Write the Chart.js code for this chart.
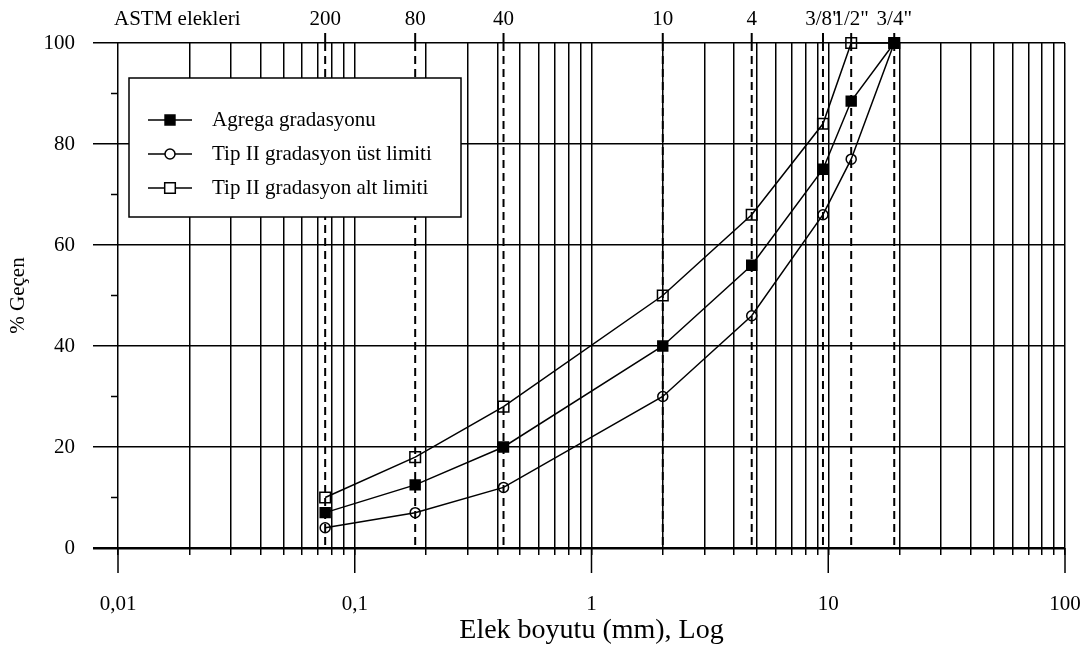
<!DOCTYPE html>
<html>
<head>
<meta charset="utf-8">
<script src="https://cdn.jsdelivr.net/npm/chart.js@4.4.0/dist/chart.umd.min.js"></script>
<style>
  html, body { margin: 0; padding: 0; background: #fff; }
  #kutu { width: 1088px; height: 650px; }
</style>
</head>
<body>
<div id="kutu"><canvas id="grafik"></canvas></div>
<script>
// Elek açıklıkları (mm) ve ASTM elek numaraları
const elekBoyutlari = [0.075, 0.18, 0.425, 2.0, 4.75, 9.5, 12.5, 19.0];
const elekEtiketleri = ['200', '80', '40', '10', '4', '3/8"', '1/2"', '3/4"'];

// Geçen yüzdeler (%)
const agregaGecen = [7, 12.5, 20, 40, 56, 75, 88.5, 100];
const ustLimit = [4, 7, 12, 30, 46, 66, 77, 100];
const altLimit = [10, 18, 28, 50, 66, 84, 100, 100];

// Eksen işaretleri
const dekadlar = [0.01, 0.1, 1, 10, 100];
const dekadEtiketleri = ['0,01', '0,1', '1', '10', '100'];
const araCarpanlar = [2, 3, 4, 5, 6, 7, 8, 9];
const yAnaTikler = [0, 20, 40, 60, 80, 100];
const yAraTikler = [10, 30, 50, 70, 90];

const yazi = "'Liberation Serif', 'Times New Roman', serif";

// log eksen için tüm ızgara değerleri (1..9 x 10^n)
let xIzgara = [];
dekadlar.forEach((d, i) => {
    xIzgara.push(d);
    if (i < dekadlar.length - 1) {
        araCarpanlar.forEach(c => xIzgara.push(c * d));
    }
});

function noktalar(degerler) {
    return elekBoyutlari.map((x, i) => ({ x: x, y: degerler[i] }));
}

const seriler = [
    { label: 'Agrega gradasyonu', data: noktalar(agregaGecen), pointStyle: 'rect', pointRadius: 7, dolu: true },
    { label: 'Tip II gradasyon üst limiti', data: noktalar(ustLimit), pointStyle: 'circle', pointRadius: 5, dolu: false },
    { label: 'Tip II gradasyon alt limiti', data: noktalar(altLimit), pointStyle: 'rect', pointRadius: 7.5, dolu: false }
];

function cizgi(ctx, x1, y1, x2, y2) {
    ctx.beginPath();
    ctx.moveTo(x1, y1);
    ctx.lineTo(x2, y2);
    ctx.stroke();
}

// Elek çizgileri, ek tikler ve üst etiketler
const elekEklentisi = {
    id: 'elekEklentisi',
    beforeDatasetsDraw(chart) {
        const { ctx, chartArea: a, scales: { x, y } } = chart;
        ctx.save();
        ctx.strokeStyle = '#000';
        ctx.lineWidth = 1.5;

        yAraTikler.forEach(v => {
            let py = y.getPixelForValue(v);
            cizgi(ctx, a.left - 7, py, a.left, py);
        });

        dekadlar.forEach(v => {
            let px = x.getPixelForValue(v);
            cizgi(ctx, px, a.bottom, px, a.bottom + 25);
        });

        ctx.lineWidth = 2;
        ctx.setLineDash([8, 5]);
        elekBoyutlari.forEach(v => {
            let px = x.getPixelForValue(v);
            cizgi(ctx, px, a.top, px, a.bottom);
        });
        ctx.setLineDash([]);
        elekBoyutlari.forEach(v => {
            let px = x.getPixelForValue(v);
            cizgi(ctx, px, a.top - 10, px, a.top);
        });

        ctx.fillStyle = '#000';
        ctx.font = '21px ' + yazi;
        ctx.textBaseline = 'middle';
        ctx.textAlign = 'center';
        elekBoyutlari.forEach((v, i) => {
            ctx.fillText(elekEtiketleri[i], x.getPixelForValue(v), 19);
        });
        ctx.textAlign = 'left';
        ctx.fillText('ASTM elekleri', 114, 19);
        ctx.restore();
    },
    afterDraw(chart) {
        const ctx = chart.ctx;
        ctx.save();
        ctx.fillStyle = '#fff';
        ctx.fillRect(129, 78, 332, 139);
        ctx.strokeStyle = '#000';
        ctx.lineWidth = 1.5;
        ctx.strokeRect(129, 78, 332, 139);

        const satirlar = [120, 154, 188];
        ctx.font = '21px ' + yazi;
        ctx.textBaseline = 'middle';
        ctx.textAlign = 'left';
        seriler.forEach((s, i) => {
            let yy = satirlar[i];
            ctx.strokeStyle = '#000';
            ctx.lineWidth = 1.5;
            cizgi(ctx, 148, yy, 192, yy);
            ctx.fillStyle = s.dolu ? '#000' : '#fff';
            Chart.helpers.drawPoint(ctx, { pointStyle: s.pointStyle, radius: s.pointRadius, rotation: 0, borderWidth: 1.5 }, 170, yy);
            ctx.fillStyle = '#000';
            ctx.fillText(s.label, 212, yy);
        });
        ctx.restore();
    }
};

Chart.defaults.font.family = yazi;
Chart.defaults.color = '#000';

document.addEventListener('DOMContentLoaded', () => {
    let ctx = document.getElementById('grafik').getContext('2d');

    new Chart(ctx, {
        type: 'line',
        data: {
            datasets: seriler.map(s => ({
                label: s.label,
                data: s.data,
                borderColor: '#000',
                borderWidth: 1.5,
                backgroundColor: s.dolu ? '#000' : 'rgba(0,0,0,0)',
                pointStyle: s.pointStyle,
                pointRadius: s.pointRadius,
                pointBorderWidth: 1.5,
                pointBorderColor: '#000',
                pointBackgroundColor: s.dolu ? '#000' : 'rgba(0,0,0,0)',
                tension: 0,
                clip: false
            }))
        },
        options: {
            responsive: true,
            maintainAspectRatio: false,
            animation: false,
            layout: { padding: { top: 43, right: 23, bottom: 0, left: 0 } },
            scales: {
                x: {
                    type: 'logarithmic',
                    min: 0.01,
                    max: 100,
                    afterBuildTicks: s => { s.ticks = xIzgara.map(v => ({ value: v })); },
                    afterFit: s => {
                        s.height = 102;
                        s.paddingLeft = 0;
                        s.paddingRight = 0;
                    },
                    ticks: {
                        autoSkip: false,
                        maxRotation: 0,
                        padding: 37,
                        font: { size: 21 },
                        color: '#000',
                        callback: (v) => {
                            let i = dekadlar.indexOf(v);
                            return i >= 0 ? dekadEtiketleri[i] : '';
                        }
                    },
                    grid: { color: '#000', lineWidth: 1.5, tickLength: 7 },
                    border: { display: false },
                    title: {
                        display: true,
                        text: 'Elek boyutu (mm), Log',
                        font: { size: 28 },
                        color: '#000',
                        padding: { top: 0, bottom: 3 }
                    }
                },
                y: {
                    min: 0,
                    max: 100,
                    afterBuildTicks: s => { s.ticks = yAnaTikler.map(v => ({ value: v })); },
                    afterFit: s => {
                        s.width = 118;
                        s.paddingTop = 0;
                        s.paddingBottom = 0;
                    },
                    ticks: { padding: 18, font: { size: 21 }, color: '#000' },
                    grid: {
                        color: '#000',
                        lineWidth: c => (c.tick && c.tick.value === 0) ? 2.5 : 1.5,
                        tickLength: 25
                    },
                    border: { display: false },
                    title: {
                        display: true,
                        text: '% Geçen',
                        font: { size: 21 },
                        color: '#000',
                        padding: { top: 6, bottom: 0 }
                    }
                }
            },
            plugins: {
                legend: { display: false },
                tooltip: { enabled: false }
            }
        },
        plugins: [elekEklentisi]
    });
});
</script>
</body>
</html>
